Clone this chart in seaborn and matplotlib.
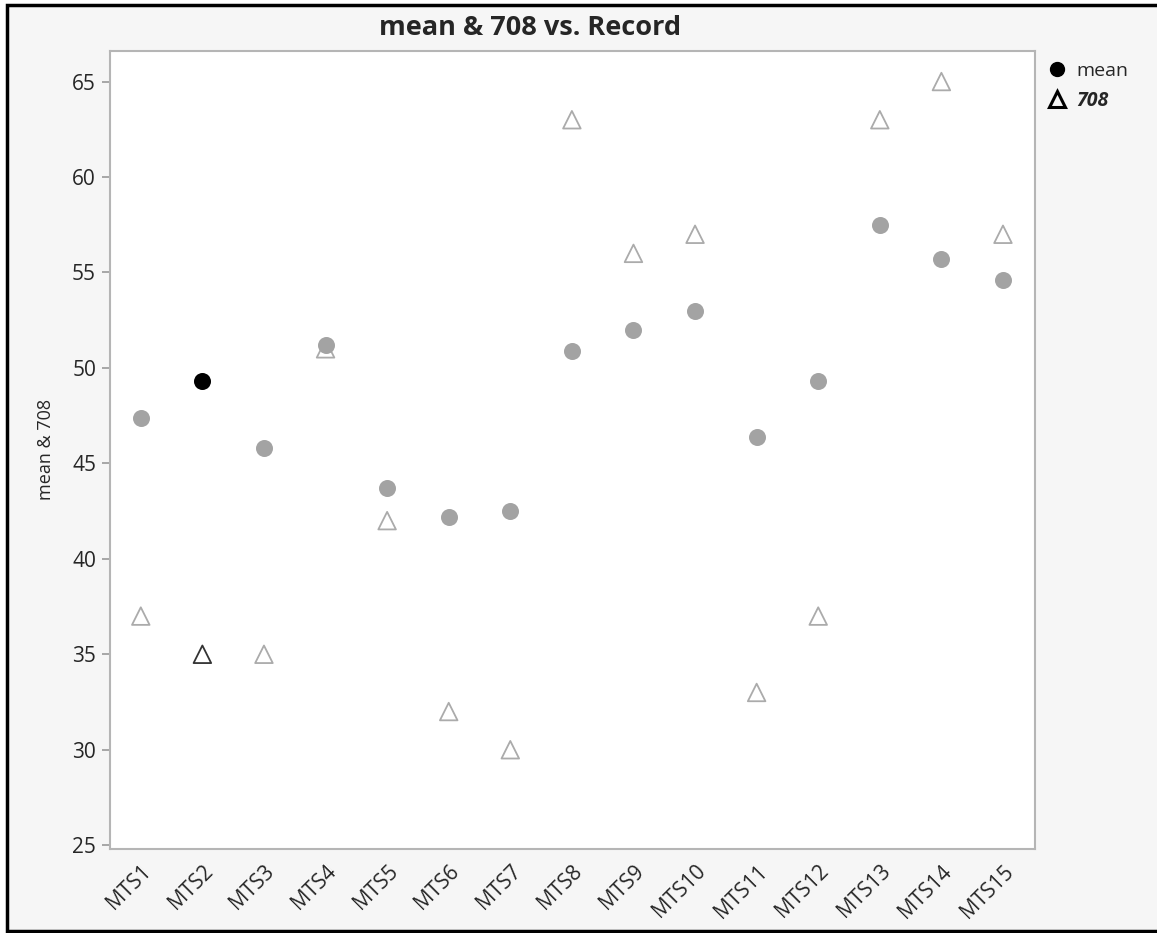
import pandas as pd
import matplotlib.pyplot as plt
import seaborn as sns
from matplotlib.lines import Line2D
from matplotlib.patches import Rectangle

records = ['MTS1', 'MTS2', 'MTS3', 'MTS4', 'MTS5', 'MTS6', 'MTS7', 'MTS8',
           'MTS9', 'MTS10', 'MTS11', 'MTS12', 'MTS13', 'MTS14', 'MTS15']
mean_vals = [47.4, 49.3, 45.8, 51.2, 43.7, 42.2, 42.5, 50.9,
             52.0, 53.0, 46.4, 49.3, 57.5, 55.7, 54.6]
v708 = [37, 35, 35, 51, 42, 32, 30, 63, 56, 57, 33, 37, 63, 65, 57]
selected = ['MTS2']

df = pd.DataFrame({'Record': records, 'mean': mean_vals, '708': v708})
df['x'] = range(len(df))
df['sel'] = df['Record'].isin(selected)

sns.set_style('white')
plt.rcParams['font.family'] = ['Open Sans', 'DejaVu Sans']

fig = plt.figure(figsize=(11.57, 9.33), dpi=100, facecolor='white')
# gray panel with black frame
fig.patches.append(Rectangle((7 / 1157, 2 / 933), 1.0, 926 / 933, transform=fig.transFigure,
                             facecolor='#f6f6f6', edgecolor='black', linewidth=2.5, zorder=-10))

ax = fig.add_axes([110 / 1157, 84 / 933, 925 / 1157, 798 / 933])
ax.set_facecolor('white')

grey = '#a3a3a3'
for sel, col_m, col_t in [(False, grey, '#ababab'), (True, 'black', '#333333')]:
    d = df[df['sel'] == sel]
    sns.scatterplot(data=d, x='x', y='mean', ax=ax, color=col_m, s=150,
                    edgecolor=col_m, linewidth=0, zorder=3)
    sns.scatterplot(data=d, x='x', y='708', ax=ax, marker='^', s=160,
                    facecolor='none', edgecolor=col_t, color=col_t, linewidth=1.3, zorder=2)

ax.set_xlim(-0.5, 14.52)
ax.set_ylim(24.8, 66.6)
ax.set_xticks(df['x'])
ax.set_xticklabels(records, rotation=45, ha='right', rotation_mode='anchor', fontsize=15)
ax.set_yticks([25, 30, 35, 40, 45, 50, 55, 60, 65])
ax.tick_params(axis='y', left=True, length=6, width=1.2, color='#999999', labelsize=15, pad=4)
ax.tick_params(axis='x', bottom=False, pad=5)
for s in ax.spines.values():
    s.set_color('#b5b5b5')
    s.set_linewidth(1.5)
ax.set_xlabel('')
ax.set_ylabel('mean & 708', fontsize=13, labelpad=12)
fig.text(530 / 1157, 1 - 28 / 933, 'mean & 708 vs. Record', fontsize=19.5, fontweight='bold',
         ha='center', va='center')

handles = [Line2D([], [], marker='o', color='black', linestyle='none', markersize=10),
           Line2D([], [], marker='^', color='black', markerfacecolor='none', linestyle='none',
                  markersize=12, markeredgewidth=2.2)]
leg = fig.legend(handles, ['mean', '708'], loc='upper left', bbox_to_anchor=(1040 / 1157, 1 - 58 / 933),
                 frameon=False, fontsize=14, handletextpad=0.35, labelspacing=0.55, handlelength=1.3,
                 borderaxespad=0, borderpad=0.2)
leg.get_texts()[1].set_fontweight('bold')
leg.get_texts()[1].set_fontstyle('italic')

fig.savefig('out.png', dpi=100, facecolor=fig.get_facecolor())
